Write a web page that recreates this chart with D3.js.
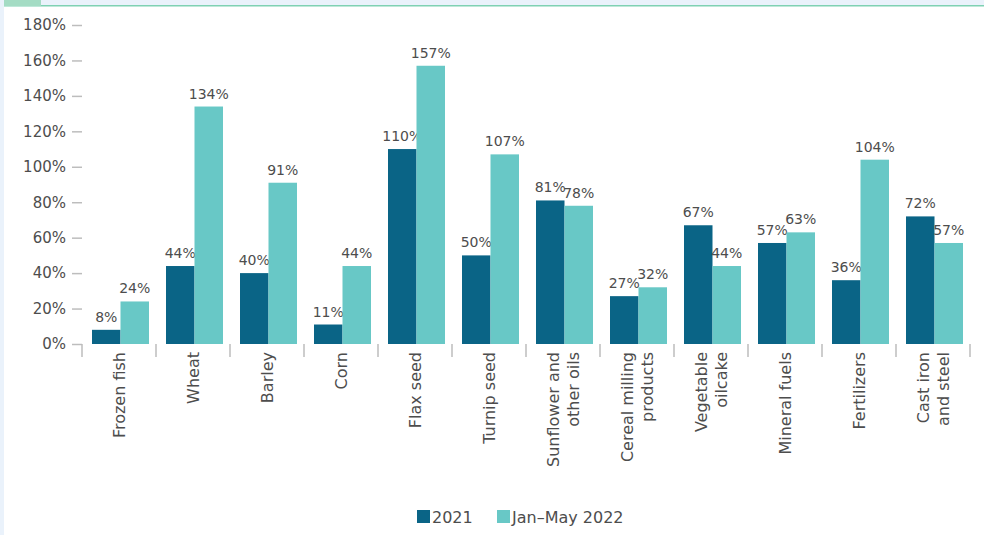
<!DOCTYPE html>
<head>
  <meta charset="utf-8">
  <script src="https://cdn.jsdelivr.net/npm/d3@7"></script>
  <style>
    body { margin:0; background:#fff; }
    text { font-family: "DejaVu Sans", "Open Sans", sans-serif; fill:#4d4d4d; }
  </style>
</head>
<body>
  <script>
    // data
    var categories = [["Frozen fish"], ["Wheat"], ["Barley"], ["Corn"], ["Flax seed"], ["Turnip seed"],
                      ["Sunflower and", "other oils"], ["Cereal milling", "products"], ["Vegetable", "oilcake"],
                      ["Mineral fuels"], ["Fertilizers"], ["Cast iron", "and steel"]];
    var v2021 = [8, 44, 40, 11, 110, 50, 81, 27, 67, 57, 36, 72];
    var v2022 = [24, 134, 91, 44, 157, 107, 78, 32, 44, 63, 104, 57];
    var seriesNames = ["2021", "Jan\u2013May 2022"];
    var colors = ["#0a6486", "#68c8c6"];
    var yTicks = [0, 20, 40, 60, 80, 100, 120, 140, 160, 180];

    var width = 984, height = 535;
    var svg = d3.select("body").append("svg")
      .attr("width", width).attr("height", height);

    // page frame
    svg.append("rect").attr("x", 0).attr("y", 0).attr("width", width).attr("height", 5).attr("fill", "#eaf2fb");
    svg.append("rect").attr("x", 0).attr("y", 0).attr("width", 4).attr("height", height).attr("fill", "#eaf2fb");
    svg.append("rect").attr("x", 4).attr("y", 5).attr("width", width).attr("height", 1.5).attr("fill", "#7fd1b3");
    svg.append("rect").attr("x", 4).attr("y", 0).attr("width", 37).attr("height", 6).attr("fill", "#a4dcc4");

    var x0 = 82, x1 = 970, yBase = 344, yTop = 25;
    var x = d3.scaleBand().domain(d3.range(categories.length)).range([x0, x1]).paddingInner(0).paddingOuter(0);
    var xs = d3.scaleBand().domain([0, 1]).range([10, x.bandwidth() - 7]);
    var y = d3.scaleLinear().domain([0, 180]).range([yBase, yTop]);

    // y axis ticks
    var yAxis = d3.axisLeft(y).tickValues(yTicks).tickSize(10).tickPadding(6)
      .tickFormat(function(d) { return d + "%"; });
    var gy = svg.append("g").attr("transform", "translate(" + x0 + ",0)").call(yAxis);
    gy.select(".domain").remove();
    gy.selectAll("line").attr("stroke", "#bdbdbd").attr("stroke-width", 1.5);
    gy.selectAll("text").style("font-size", "15px").attr("fill", "#4d4d4d")
      .style("font-family", "'DejaVu Sans', sans-serif");

    // category separators
    svg.append("g").selectAll("line")
      .data(d3.range(categories.length + 1))
      .enter().append("line")
      .attr("x1", function(i) { return i < categories.length ? x(i) : x1; })
      .attr("x2", function(i) { return i < categories.length ? x(i) : x1; })
      .attr("y1", yBase).attr("y2", yBase + 13)
      .attr("stroke", "#bdbdbd").attr("stroke-width", 1.5);

    var series = [v2021, v2022];
    series.forEach(function(vals, s) {
      var g = svg.append("g");
      g.selectAll("rect").data(vals).enter().append("rect")
        .attr("x", function(d, i) { return x(i) + xs(s); })
        .attr("width", xs.bandwidth())
        .attr("y", function(d) { return y(d); })
        .attr("height", function(d) { return yBase - y(d); })
        .attr("fill", colors[s]);
      g.selectAll("text").data(vals).enter().append("text")
        .attr("x", function(d, i) { return x(i) + xs(s) + xs.bandwidth() / 2; })
        .attr("y", function(d) { return y(d) - 8; })
        .attr("text-anchor", "middle")
        .style("font-size", "14px")
        .text(function(d) { return d + "%"; });
    });

    // category labels, rotated
    categories.forEach(function(lines, i) {
      var cx = x(i) + x.bandwidth() / 2;
      lines.forEach(function(line, k) {
        var off = (k - (lines.length - 1) / 2) * 20;
        svg.append("text")
          .attr("transform", "translate(" + (cx + off + 6) + "," + 352 + ") rotate(-90)")
          .attr("text-anchor", "end")
          .style("font-size", "16px")
          .text(line);
      });
    });

    // legend
    var legend = svg.append("g").attr("transform", "translate(417,510)");
    var lx = [0, 80];
    seriesNames.forEach(function(n, s) {
      legend.append("rect").attr("x", lx[s]).attr("y", 0).attr("width", 13).attr("height", 13).attr("fill", colors[s]);
      legend.append("text").attr("x", lx[s] + 15).attr("y", 12.5).style("font-size", "16px").text(n);
    });
  </script>
</body>
